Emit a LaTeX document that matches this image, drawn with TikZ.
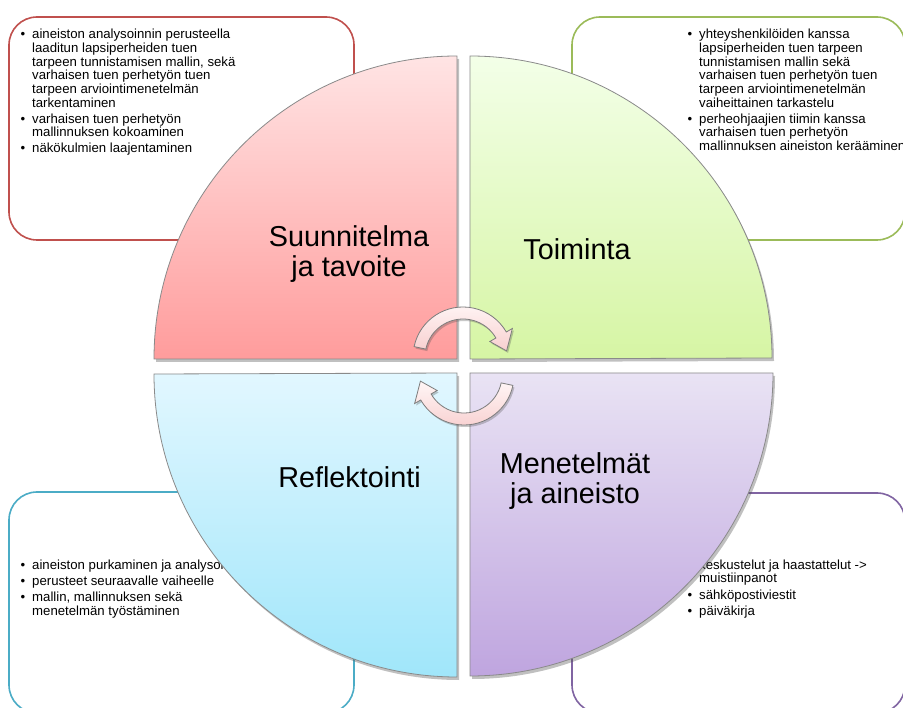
\documentclass[tikz,border=0pt]{standalone}
\usepackage{fontspec}
\setmainfont{Liberation Sans}
\usetikzlibrary{shadows}
\definecolor{bred}{HTML}{C0504D}
\definecolor{bgreen}{HTML}{9BBB59}
\definecolor{bblue}{HTML}{4BACC6}
\definecolor{bpurple}{HTML}{8064A2}
\definecolor{tlA}{HTML}{FFE4E4}
\definecolor{tlB}{HTML}{FF9C9C}
\definecolor{trA}{HTML}{F3FFE8}
\definecolor{trB}{HTML}{D6F5A4}
\definecolor{blA}{HTML}{E2F7FF}
\definecolor{blB}{HTML}{A0E6FA}
\definecolor{brA}{HTML}{E9E3F4}
\definecolor{brB}{HTML}{BFA5DF}
\definecolor{arA}{HTML}{FFF6F6}
\definecolor{arB}{HTML}{F8CFCF}
\definecolor{qedge}{HTML}{8A8A8A}
\newcommand{\bu}{\makebox[11.5pt][l]{•}}
\begin{document}
\begin{tikzpicture}[x=1pt,y=-1pt,
  infobox/.style={line width=1.6pt, rounded corners=28pt},
  quad/.style={draw=qedge, line width=0.8pt,
    drop shadow={shadow xshift=2pt, shadow yshift=-3pt, opacity=0.35, fill=black!70}},
  arr/.style={draw=qedge!90!black, line width=0.8pt, top color=arA, bottom color=arB,
    drop shadow={shadow xshift=1.5pt, shadow yshift=-2pt, opacity=0.3, fill=black!70}},
  bodytext/.style={inner sep=0pt, anchor=base west, font=\fontsize{13.2}{13.6}\selectfont},
  label/.style={inner sep=0pt, anchor=base, font=\fontsize{28.8}{30}\selectfont}]
\useasboundingbox (0,0) rectangle (903,708);
\fill[white] (0,0) rectangle (903,708);
% information boxes
\draw[infobox, draw=bred] (9,17) rectangle (354,240);
\draw[infobox, draw=bgreen] (572,17) rectangle (905,240);
\draw[infobox, draw=bblue] (9,492) rectangle (354,713);
\draw[infobox, draw=bpurple] (572,493) rectangle (905,713);
% box texts
\node[bodytext] (tltext) at (20.5,39) {\begin{tabular}[t]{@{}l@{}l@{}}
\bu & aineiston analysoinnin perusteella\\
 & laaditun lapsiperheiden tuen\\
 & tarpeen tunnistamisen mallin, sekä\\
 & varhaisen tuen perhetyön tuen\\
 & tarpeen arviointimenetelmän\\
 & tarkentaminen\\[2.4pt]
\bu & varhaisen tuen perhetyön\\
 & mallinnuksen kokoaminen\\[2.4pt]
\bu & näkökulmien laajentaminen
\end{tabular}};
\node[bodytext] (trtext) at (687.5,39) {\begin{tabular}[t]{@{}l@{}l@{}}
\bu & yhteyshenkilöiden kanssa\\
 & lapsiperheiden tuen tarpeen\\
 & tunnistamisen mallin sekä\\
 & varhaisen tuen perhetyön tuen\\
 & tarpeen arviointimenetelmän\\
 & vaiheittainen tarkastelu\\[2.4pt]
\bu & perheohjaajien tiimin kanssa\\
 & varhaisen tuen perhetyön\\
 & mallinnuksen aineiston kerääminen
\end{tabular}};
\node[bodytext] (bltext) at (20.5,569) {\begin{tabular}[t]{@{}l@{}l@{}}
\bu & aineiston purkaminen ja analysointi\\[2.8pt]
\bu & perusteet seuraavalle vaiheelle\\[2.8pt]
\bu & mallin, mallinnuksen sekä\\
 & menetelmän työstäminen
\end{tabular}};
\node[bodytext] (brtext) at (687.5,569) {\begin{tabular}[t]{@{}l@{}l@{}}
\bu & keskustelut ja haastattelut ->\\
 & muistiinpanot\\[2.8pt]
\bu & sähköpostiviestit\\[2.4pt]
\bu & päiväkirja
\end{tabular}};
% quadrants
\path[quad, top color=tlA, bottom color=tlB] (457,359) -- (154,359) arc[start angle=180, end angle=90, radius=303pt] -- cycle;
\path[quad, top color=trA, bottom color=trB] (470,359) -- (470,56) arc[start angle=90, end angle=0, radius=302pt] -- cycle;
\path[quad, top color=blA, bottom color=blB] (457,373) -- (457,677) arc[start angle=270, end angle=180, radius=303pt] -- cycle;
\path[quad, top color=brA, bottom color=brB] (470,373) -- (773,373) arc[start angle=0, end angle=-90, radius=303pt] -- cycle;
% quadrant labels
\node[label] (plan) at (349,247) {\begin{tabular}[t]{@{}c@{}}Suunnitelma\\ja tavoite\end{tabular}};
\node[label] (act) at (577,260) {Toiminta};
\node[label] (refl) at (349.5,488) {Reflektointi};
\node[label] (meth) at (575,473.5) {\begin{tabular}[t]{@{}c@{}}Menetelmät\\ja aineisto\end{tabular}};
% circular arrows
\coordinate (ca) at (463,357);
\coordinate (cb) at (464,375);
\path[arr] ([shift={(ca)}]168:50pt) arc[start angle=168, end angle=30, radius=50pt]
  -- ([shift={(ca)}]30:57pt) -- ([shift={(ca)}]8:44pt) -- ([shift={(ca)}]30:31pt)
  -- ([shift={(ca)}]30:38pt) arc[start angle=30, end angle=168, radius=38pt] -- cycle;
\path[arr] ([shift={(cb)}]348:50pt) arc[start angle=348, end angle=210, radius=50pt]
  -- ([shift={(cb)}]210:57pt) -- ([shift={(cb)}]188:44pt) -- ([shift={(cb)}]210:31pt)
  -- ([shift={(cb)}]210:38pt) arc[start angle=210, end angle=348, radius=38pt] -- cycle;
\end{tikzpicture}
\end{document}
